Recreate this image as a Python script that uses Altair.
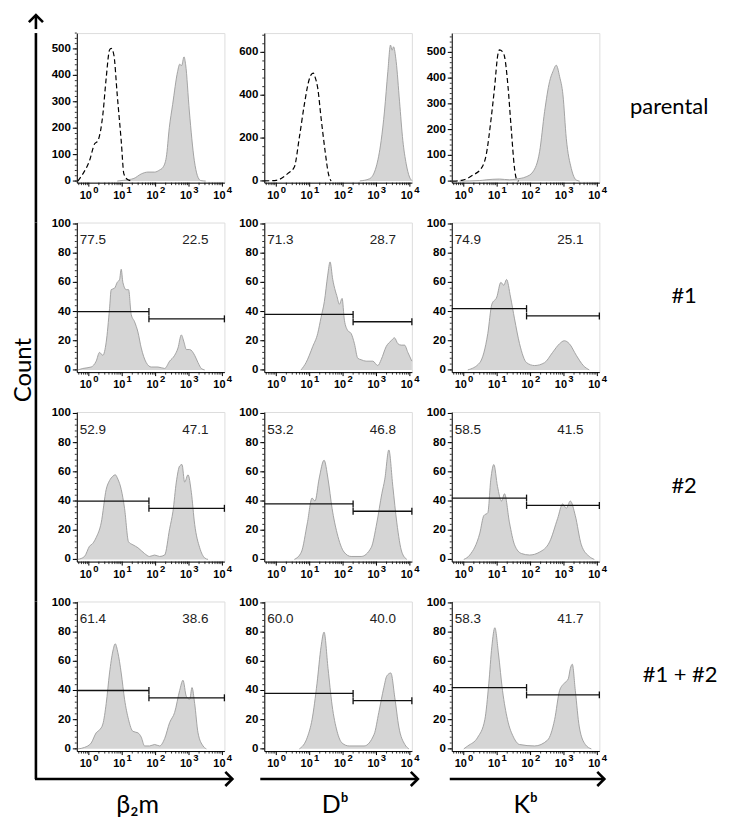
import altair as alt
import numpy as np
import pandas as pd

# ---------------- data ----------------
DECADES = [0, 1, 2, 3, 4]
DECADE_BASE = ["10", "10", "10", "10", "10"]
DECADE_EXP = ["0", "1", "2", "3", "4"]

COL_LABELS = ["β₂m", "Dᵇ", "Kᵇ"]
ROW_LABELS = ["parental", "#1", "#2", "#1 + #2"]

# parental row: isotype (dashed) and stained (filled) histograms, x in decades
ISO_B2M_X = [-0.33, -0.18, 0.02, 0.17, 0.27, 0.42, 0.52, 0.62, 0.67, 0.75, 0.85, 0.97, 1.05, 1.17, 1.3]
ISO_B2M_Y = [0, 27, 77, 140, 152, 252, 390, 496, 502, 477, 327, 152, 27, 5, 0]
ISO_DB_X = [-0.36, 0.0, 0.34, 0.54, 0.69, 0.84, 0.97, 1.04, 1.11, 1.17, 1.24, 1.34, 1.46, 1.56, 1.64]
ISO_DB_Y = [0, 3, 34, 65, 203, 357, 465, 495, 503, 480, 434, 295, 141, 34, 0]
ISO_KB_X = [-0.33, -0.03, 0.27, 0.52, 0.67, 0.82, 0.92, 1.02, 1.07, 1.15, 1.22, 1.32, 1.42, 1.52, 1.59, 1.64]
ISO_KB_Y = [0, 4, 23, 49, 101, 244, 361, 491, 510, 504, 484, 374, 205, 49, 4, 0]

PAR_B2M_X = [0.85, 1.05, 1.35, 1.57, 1.77, 1.97, 2.12, 2.22, 2.32, 2.41, 2.51, 2.66, 2.72, 2.78, 2.85, 2.9, 3.01, 3.16, 3.25, 3.35, 3.5]
PAR_B2M_Y = [0, 3, 10, 27, 34, 34, 42, 52, 90, 202, 290, 415, 442, 437, 470, 440, 265, 77, 21, 2, 0]
PAR_DB_X = [2.5, 2.79, 2.99, 3.14, 3.24, 3.34, 3.42, 3.47, 3.51, 3.59, 3.69, 3.79, 3.89, 3.99, 4.06]
PAR_DB_Y = [0, 10, 65, 188, 326, 510, 634, 610, 626, 557, 372, 188, 80, 18, 2]
PAR_KB_X = [-0.13, 0.47, 0.67, 1.07, 1.37, 1.57, 1.87, 2.07, 2.27, 2.42, 2.57, 2.67, 2.77, 2.87, 2.97, 3.07, 3.22, 3.37, 3.47]
PAR_KB_Y = [0, 2, 5, 8, 5, 8, 17, 36, 114, 270, 387, 426, 450, 406, 335, 166, 49, 4, 0]

# clone #1
C1_B2M_X = [-0.33, -0.18, 0.07, 0.22, 0.32, 0.42, 0.52, 0.62, 0.67, 0.77, 0.85, 0.92, 0.97, 1.02, 1.12, 1.19, 1.27, 1.37, 1.47, 1.57, 1.72, 1.87, 2.07, 2.27, 2.42, 2.57, 2.67, 2.77, 2.85, 2.92, 3.02, 3.17, 3.27, 3.37, 3.47]
C1_B2M_Y = [0, 1, 2, 6, 12, 10, 19, 42, 55, 56, 60, 62, 69, 60, 55, 55, 38, 33, 26, 15, 5, 2, 2, 1, 6, 10, 15, 24, 19, 14, 14, 10, 5, 1, 0]
C1_DB_X = [0.74, 0.89, 1.09, 1.24, 1.34, 1.44, 1.54, 1.61, 1.69, 1.77, 1.81, 1.89, 1.97, 2.04, 2.14, 2.24, 2.34, 2.44, 2.54, 2.69, 2.89, 3.04, 3.14, 3.29, 3.44, 3.54, 3.64, 3.74, 3.84, 3.94, 4.06]
C1_DB_Y = [0, 5, 16, 25, 36, 47, 65, 74, 62, 54, 51, 45, 49, 34, 27, 25, 18, 8, 7, 6, 6, 3, 7, 16, 20, 22, 18, 17, 17, 12, 6]
C1_KB_X = [0.12, 0.48, 0.72, 0.84, 0.99, 1.11, 1.2, 1.28, 1.4, 1.52, 1.67, 1.88, 2.12, 2.42, 2.66, 2.87, 3.01, 3.16, 3.37, 3.58, 3.76]
C1_KB_Y = [0, 5, 25, 45, 50, 60, 58, 62, 50, 35, 18, 5, 3, 5, 12, 18, 20, 18, 10, 3, 0]

# clone #2
C2_B2M_X = [-0.33, -0.13, 0.02, 0.12, 0.22, 0.37, 0.52, 0.62, 0.72, 0.79, 0.87, 0.97, 1.07, 1.19, 1.32, 1.47, 1.67, 1.82, 1.97, 2.12, 2.27, 2.42, 2.52, 2.62, 2.72, 2.79, 2.87, 2.97, 3.07, 3.17, 3.32, 3.47, 3.57]
C2_B2M_Y = [0, 2, 9, 11, 15, 25, 48, 54, 57, 58, 55, 48, 35, 12, 10, 8, 4, 2, 3, 2, 3, 21, 33, 53, 64, 65, 53, 58, 46, 24, 8, 1, 0]
C2_DB_X = [0.54, 0.75, 0.93, 1.07, 1.16, 1.28, 1.43, 1.55, 1.67, 1.82, 2.03, 2.24, 2.54, 2.84, 3.01, 3.16, 3.25, 3.37, 3.49, 3.61, 3.76, 3.91]
C2_DB_Y = [0, 5, 25, 42, 40, 55, 68, 55, 35, 18, 5, 2, 2, 8, 25, 45, 55, 75, 50, 25, 5, 0]
C2_KB_X = [0.0, 0.18, 0.48, 0.6, 0.72, 0.81, 0.9, 1.01, 1.13, 1.22, 1.37, 1.52, 1.73, 1.97, 2.27, 2.57, 2.81, 2.96, 3.07, 3.19, 3.34, 3.52, 3.76, 3.91]
C2_KB_Y = [0, 3, 18, 30, 32, 55, 65, 50, 40, 45, 25, 10, 4, 3, 5, 12, 28, 38, 35, 40, 30, 10, 2, 0]

# clones #1 + #2
C12_B2M_X = [-0.33, -0.13, 0.07, 0.22, 0.32, 0.42, 0.52, 0.62, 0.72, 0.79, 0.87, 0.97, 1.07, 1.19, 1.32, 1.47, 1.57, 1.67, 1.82, 1.97, 2.12, 2.27, 2.42, 2.57, 2.72, 2.82, 2.92, 3.02, 3.09, 3.17, 3.27, 3.42, 3.52]
C12_B2M_Y = [0, 1, 4, 11, 13, 17, 31, 52, 67, 72, 66, 52, 34, 20, 12, 11, 8, 2, 2, 3, 2, 7, 18, 25, 40, 47, 36, 34, 42, 31, 11, 2, 0]
C12_DB_X = [0.69, 0.93, 1.07, 1.22, 1.34, 1.43, 1.55, 1.67, 1.82, 1.97, 2.18, 2.63, 2.93, 3.07, 3.22, 3.31, 3.43, 3.55, 3.67, 3.85, 3.97]
C12_DB_Y = [0, 8, 20, 45, 70, 80, 55, 30, 12, 4, 2, 2, 10, 25, 42, 50, 52, 35, 15, 3, 0]
C12_KB_X = [0.0, 0.12, 0.42, 0.63, 0.75, 0.84, 0.93, 1.04, 1.16, 1.31, 1.49, 1.67, 2.12, 2.51, 2.72, 2.87, 3.01, 3.13, 3.19, 3.25, 3.34, 3.46, 3.64, 3.82]
C12_KB_Y = [0, 2, 8, 20, 45, 70, 83, 65, 40, 20, 8, 3, 2, 6, 20, 40, 45, 48, 55, 58, 40, 15, 3, 0]

# gates (split decade, left-gate level, right-gate level) per marker column
GATE_SPLIT = [1.80, 2.30, 1.88]
GATE_LEFT = [40, 38, 42]
GATE_RIGHT = [35, 33, 37]

PCT_C1 = [("77.5", "22.5"), ("71.3", "28.7"), ("74.9", "25.1")]
PCT_C2 = [("52.9", "47.1"), ("53.2", "46.8"), ("58.5", "41.5")]
PCT_C12 = [("61.4", "38.6"), ("60.0", "40.0"), ("58.3", "41.7")]

PAR_YDOM = [[-6, 560], [-8, 690], [-6, 575]]
PAR_YTICKS = [[0, 100, 200, 300, 400, 500], [0, 200, 400, 600], [0, 100, 200, 300, 400, 500]]
PAR_YMINOR = [20, 40, 20]
CLONE_YDOM = [-1.5, 101]
CLONE_YTICKS = [0, 20, 40, 60, 80, 100]
CLONE_YMINOR = 4

# ---------------- layout / style ----------------
W, H = 148, 150
GAP = 40
LEFT_W = 28
LAB_W = 84
BOT_H = 22
XMIN, XMAX = -0.36, 4.06
FONT = "Liberation Sans"
BIG = "Lato"
FILL = "#d5d5d5"
EDGE = "#9c9c9c"
AX = 27  # x of the vertical Count arrow inside the left column

minor_x = [d + np.log10(k) for d in range(-1, 4) for k in range(2, 10)]
minor_x = [v for v in minor_x if XMIN < v < XMAX]
ONE = pd.DataFrame({"a": [0]})
NOFRAME = alt.ViewBackground(stroke="transparent")


def panel(hx, hy, ydom, yticks, yminor_step, iso=None, col=0, pcts=None):
    xs = alt.Scale(domain=[XMIN, XMAX], nice=False, zero=False)
    ys = alt.Scale(domain=ydom, nice=False, zero=False)
    xax = alt.Axis(labels=False, ticks=False, grid=False, title=None,
                   domainColor="black", domainWidth=1)
    yax = alt.Axis(labels=False, ticks=False, grid=False, title=None,
                   domainColor="black", domainWidth=1)
    hist = pd.DataFrame({"x": hx, "y": hy})
    layers = [
        alt.Chart(hist).mark_area(color=FILL, interpolate="monotone").encode(
            x=alt.X("x:Q", scale=xs, axis=xax), y=alt.Y("y:Q", scale=ys, axis=yax)),
        alt.Chart(hist).mark_line(color=EDGE, strokeWidth=0.9, interpolate="monotone").encode(
            x="x:Q", y="y:Q"),
    ]
    if iso is not None:
        idf = pd.DataFrame({"x": iso[0], "y": iso[1]})
        layers.append(alt.Chart(idf).mark_line(color="black", strokeWidth=1.2,
                                               strokeDash=[5, 3], interpolate="monotone")
                      .encode(x="x:Q", y="y:Q"))
    # x ticks and 10^n labels
    layers.append(alt.Chart(pd.DataFrame({"x": DECADES})).mark_rule(color="black", strokeWidth=1)
                  .encode(x="x:Q", y=alt.value(H), y2=alt.value(H + 4)))
    layers.append(alt.Chart(pd.DataFrame({"x": minor_x})).mark_rule(color="black", strokeWidth=0.8)
                  .encode(x="x:Q", y=alt.value(H), y2=alt.value(H + 2.5)))
    lab = pd.DataFrame({"x": DECADES, "b": DECADE_BASE, "e": DECADE_EXP})
    layers.append(alt.Chart(lab).mark_text(font=FONT, fontSize=11, fontWeight="bold", dx=-3,
                                           color="black", baseline="alphabetic")
                  .encode(x="x:Q", y=alt.value(H + 16), text="b:N"))
    layers.append(alt.Chart(lab).mark_text(font=FONT, fontSize=9.5, fontWeight="bold", dx=7,
                                           color="black", baseline="alphabetic")
                  .encode(x="x:Q", y=alt.value(H + 10), text="e:N"))
    # y ticks and labels
    ym = list(np.arange(0, ydom[1] + 0.01, yminor_step))
    layers.append(alt.Chart(pd.DataFrame({"y": ym})).mark_rule(color="black", strokeWidth=0.8)
                  .encode(y="y:Q", x=alt.value(0), x2=alt.value(-2)))
    ylab = pd.DataFrame({"y": yticks, "t": [str(v) for v in yticks]})
    layers.append(alt.Chart(ylab).mark_rule(color="black", strokeWidth=1)
                  .encode(y="y:Q", x=alt.value(0), x2=alt.value(-4)))
    layers.append(alt.Chart(ylab).mark_text(font=FONT, fontSize=11.5, fontWeight="bold",
                                            align="right", baseline="middle", color="black", dx=-6)
                  .encode(y="y:Q", x=alt.value(0), text="t:N"))
    if pcts is not None:
        s, gl, gr = GATE_SPLIT[col], GATE_LEFT[col], GATE_RIGHT[col]
        g = pd.DataFrame({"x": [XMIN, s], "x2": [s, XMAX], "y": [gl, gr]})
        layers.append(alt.Chart(g).mark_rule(color="#111111", strokeWidth=1.3)
                      .encode(x="x:Q", x2="x2:Q", y="y:Q"))
        caps = pd.DataFrame({"x": [s, s, XMAX], "y": [gl, gr, gr]})
        layers.append(alt.Chart(caps).mark_tick(orient="vertical", size=7, thickness=1.3,
                                                color="#111111", opacity=1)
                      .encode(x="x:Q", y="y:Q"))
        t = pd.DataFrame({"l": [pcts[0]], "r": [pcts[1]]})
        layers.append(alt.Chart(t).mark_text(font=FONT, fontSize=13.5, align="left",
                                             baseline="middle", color="#222222")
                      .encode(x=alt.value(3), y=alt.value(18), text="l:N"))
        layers.append(alt.Chart(t).mark_text(font=FONT, fontSize=13.5, align="right",
                                             baseline="middle", color="#222222")
                      .encode(x=alt.value(132), y=alt.value(18), text="r:N"))
    return alt.layer(*layers).properties(width=W, height=H)


def row_label(text, xpos):
    return alt.Chart(pd.DataFrame({"t": [text]})).mark_text(
        font=BIG, fontSize=22, align="center", baseline="middle", color="black"
    ).encode(x=alt.value(xpos), y=alt.value(74), text="t:N").properties(
        width=LAB_W, height=H, view=NOFRAME)


def left_cell(r):
    y_end = H + GAP if r < 3 else H + 28
    layers = [alt.Chart(ONE).mark_rule(color="black", strokeWidth=2.6).encode(
        x=alt.value(AX), y=alt.value(0), y2=alt.value(y_end))]
    if r == 1:
        layers.append(alt.Chart(ONE).mark_text(font=BIG, fontSize=24, angle=270, align="center",
                                               baseline="middle", color="black").encode(
            x=alt.value(15), y=alt.value(148), text=alt.value("Count")))
    return alt.layer(*layers).properties(width=LEFT_W, height=H, view=NOFRAME)


ARROW_UP = "M-1,1L0,0L1,1"
ARROW_RIGHT = "M-1,-1L0,0L-1,1"


def bottom_cell(c):
    x0 = [AX - LEFT_W - GAP - 1, -4, -2][c]
    x1 = [156, 154, 153][c]
    cx = [61, 71, 74][c]
    layers = [
        alt.Chart(ONE).mark_rule(color="black", strokeWidth=2.6).encode(
            x=alt.value(x0), x2=alt.value(x1), y=alt.value(-12)),
        alt.Chart(ONE).mark_point(shape=ARROW_RIGHT, size=200, filled=False, color="black",
                                  strokeWidth=2.6, opacity=1).encode(
            x=alt.value(x1), y=alt.value(-12)),
        alt.Chart(ONE).mark_text(font=BIG, fontSize=25, align="center", baseline="alphabetic",
                                 color="black").encode(
            x=alt.value(cx), y=alt.value(BOT_H), text=alt.value(COL_LABELS[c])),
    ]
    return alt.layer(*layers).properties(width=W, height=BOT_H, view=NOFRAME)


def empty(w, h):
    return alt.Chart(ONE).mark_text(text="").encode(x=alt.value(0), y=alt.value(0)).properties(
        width=w, height=h, view=NOFRAME)


iso = [(ISO_B2M_X, ISO_B2M_Y), (ISO_DB_X, ISO_DB_Y), (ISO_KB_X, ISO_KB_Y)]
par = [(PAR_B2M_X, PAR_B2M_Y), (PAR_DB_X, PAR_DB_Y), (PAR_KB_X, PAR_KB_Y)]
c1 = [(C1_B2M_X, C1_B2M_Y), (C1_DB_X, C1_DB_Y), (C1_KB_X, C1_KB_Y)]
c2 = [(C2_B2M_X, C2_B2M_Y), (C2_DB_X, C2_DB_Y), (C2_KB_X, C2_KB_Y)]
c12 = [(C12_B2M_X, C12_B2M_Y), (C12_DB_X, C12_DB_Y), (C12_KB_X, C12_KB_Y)]

row_x = [30, 45, 45, 41]
cells = []
cells.append(left_cell(0))
for c in range(3):
    cells.append(panel(par[c][0], par[c][1], PAR_YDOM[c], PAR_YTICKS[c], PAR_YMINOR[c],
                       iso=iso[c], col=c))
cells.append(row_label(ROW_LABELS[0], row_x[0]))
for k, (data, pct) in enumerate([(c1, PCT_C1), (c2, PCT_C2), (c12, PCT_C12)]):
    cells.append(left_cell(k + 1))
    for c in range(3):
        cells.append(panel(data[c][0], data[c][1], CLONE_YDOM, CLONE_YTICKS, CLONE_YMINOR,
                           col=c, pcts=pct[c]))
    cells.append(row_label(ROW_LABELS[k + 1], row_x[k + 1]))
cells.append(empty(LEFT_W, BOT_H))
for c in range(3):
    cells.append(bottom_cell(c))
cells.append(empty(LAB_W, BOT_H))

grid = alt.concat(*cells, columns=5, spacing=GAP, bounds="flush")

top = alt.layer(
    alt.Chart(ONE).mark_rule(color="black", strokeWidth=2.6).encode(
        x=alt.value(AX), y=alt.value(3), y2=alt.value(17)),
    alt.Chart(ONE).mark_point(shape=ARROW_UP, size=200, filled=False, color="black",
                              strokeWidth=2.6, opacity=1).encode(x=alt.value(AX), y=alt.value(3)),
).properties(width=LEFT_W, height=17, view=NOFRAME)

chart = alt.vconcat(top, grid, spacing=0).properties(
    padding=0).configure_view(stroke="#9a9a9a", strokeWidth=1).configure(font=FONT)

chart.save("out.html", embed_options={"renderer": "svg", "actions": False})
